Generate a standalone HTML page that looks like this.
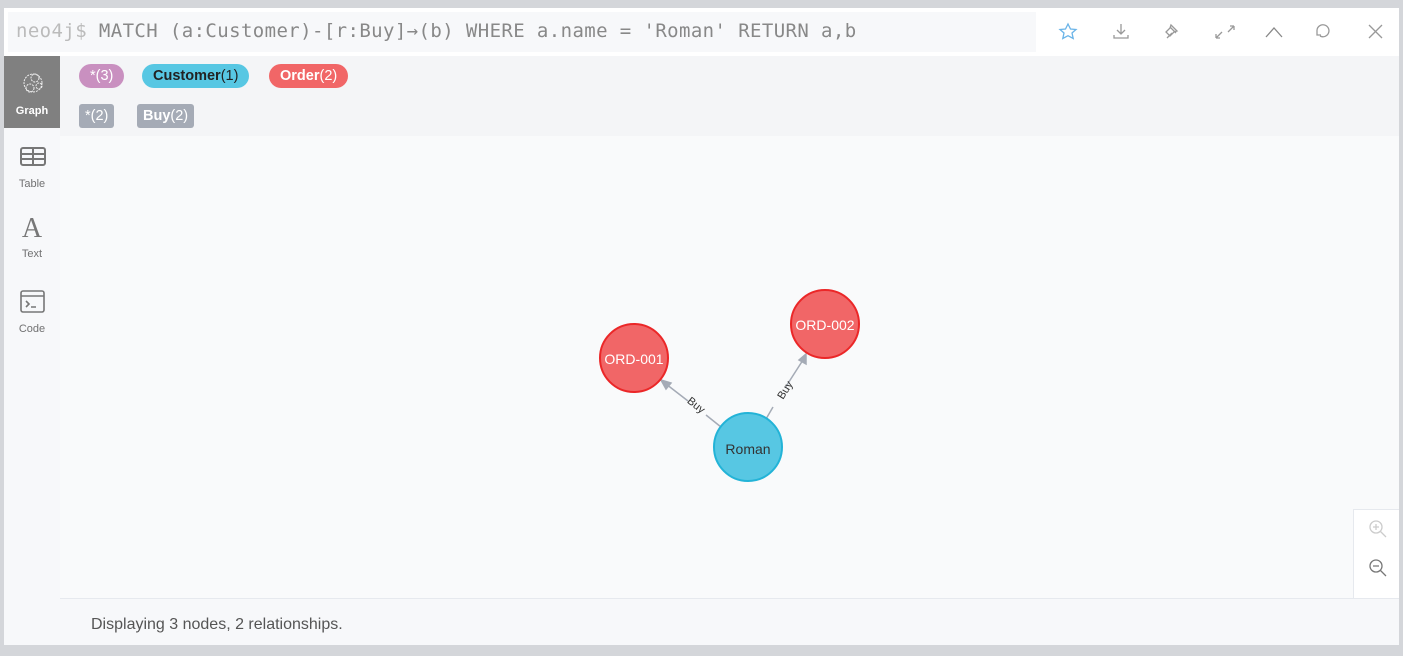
<!DOCTYPE html>
<html><head><style>
*{margin:0;padding:0;box-sizing:border-box}
body{width:1403px;height:656px;background:#d4d6da;font-family:"Liberation Sans",sans-serif;position:relative;overflow:hidden}
.abs{position:absolute}
.pill{position:absolute;height:24px;line-height:24px;border-radius:12px;font-size:14.5px;padding:0 11px}
.tag{position:absolute;height:24px;line-height:24px;border-radius:3px;font-size:14.5px;padding:0 6px;background:#a5abb6;color:#fff}
.side{position:absolute;left:4px;width:56px;text-align:center;font-size:11px;color:#717172}
</style></head><body>
<div class="abs" style="left:4px;top:8px;width:1395px;height:637px;background:#f9fafb"></div>
<div class="abs" style="left:4px;top:8px;width:1395px;height:48px;background:#fff"></div>
<div class="abs" style="left:8px;top:12px;width:1028px;height:40px;background:#f7f8fa"></div>
<div class="abs" style="left:16px;top:20px;font-family:'DejaVu Sans Mono','Liberation Mono',monospace;font-size:19px;color:#888;white-space:pre;letter-spacing:0.4px"><span style="color:#bbb">neo4j$</span> MATCH (a:Customer)-[r:Buy]→(b) WHERE a.name = 'Roman' RETURN a,b</div>
<svg class="abs" style="left:1040px;top:0" width="363" height="60" fill="none" stroke-width="1.3">
<polygon points="28,24 30.5,29 36,29.5 32,33 33.2,38.5 28,35.7 22.8,38.5 24,33 20,29.5 25.5,29" stroke="#6ab4e8"/>
<g stroke="#999"><path d="M81 24v10M77 30l4 4 4-4M74 35v3h14v-3"/>
<path d="M127 38l5-5M130 27l6 6M131 25l6 6-3 1-4 4-4-4 4-4z"/>
<path d="M176 38l6-6M176 38v-4M176 38h4M194 26l-6 6M194 26v4M194 26h-4"/>
<path d="M226 37l8-9 8 9" stroke="#888"/>
<path d="M280 36a6 6 0 1 0-3-6M277 30v5h4"/>
<path d="M329 25l13 13M342 25l-13 13"/></g>
</svg>
<div class="abs" style="left:4px;top:56px;width:56px;height:589px;background:#f7f8fa"></div>
<div class="abs" style="left:4px;top:56px;width:56px;height:72px;background:#808080"></div>
<svg class="abs" style="left:20px;top:70px" width="26" height="26" fill="none" stroke="#eee" stroke-width="1" stroke-dasharray="2 1"><circle cx="13" cy="13" r="9"/><circle cx="15" cy="8" r="4"/><circle cx="10" cy="18" r="4"/><circle cx="19" cy="16" r="3"/></svg>
<div class="side" style="top:105px;color:#fff;font-weight:bold">Graph</div>
<svg class="abs" style="left:20px;top:147px" width="26" height="20" fill="none" stroke="#777" stroke-width="2"><rect x="1" y="1" width="24" height="17" rx="2"/><path d="M1 7h24M1 12h24M13 1v17"/></svg>
<div class="side" style="top:178px">Table</div>
<div class="side" style="top:213px;font-family:'Liberation Serif',serif;font-size:28px;color:#777">A</div>
<div class="side" style="top:248px">Text</div>
<svg class="abs" style="left:20px;top:290px" width="26" height="24" fill="none" stroke="#777" stroke-width="1.6"><rect x="1" y="1" width="23" height="21" rx="2"/><path d="M1 6h23M6 11l3 3-3 3M11 17h5"/></svg>
<div class="side" style="top:323px">Code</div>
<div class="abs" style="left:60px;top:56px;width:1339px;height:80px;background:#f4f5f7"></div>
<div class="pill" style="left:79px;top:64px;background:#c990c0;color:#fff">*(3)</div>
<div class="pill" style="left:142px;top:64px;background:#57c7e3;color:#222"><b>Customer</b>(1)</div>
<div class="pill" style="left:269px;top:64px;background:#f16667;color:#fff"><b>Order</b>(2)</div>
<div class="tag" style="left:79px;top:104px">*(2)</div>
<div class="tag" style="left:137px;top:104px"><b>Buy</b>(2)</div>
<svg class="abs" style="left:0;top:0" width="1403" height="656">
<g stroke="#a5abb6" stroke-width="1.5" fill="#a5abb6">
<path d="M721 427L706 415M688 401L666 384" fill="none"/>
<polygon points="661,380 671,383 666,389"/>
<path d="M766 419L773 407M785 388L803 360" fill="none"/>
<polygon points="806,354 806,364 799,360"/>
</g>
<text x="0" y="0" font-size="11" fill="#333" text-anchor="middle" transform="translate(694,408) rotate(38)">Buy</text>
<text x="0" y="0" font-size="11" fill="#333" text-anchor="middle" transform="translate(788,392) rotate(-58)">Buy</text>
<circle cx="634" cy="358" r="34" fill="#f16667" stroke="#eb2728" stroke-width="2"/>
<circle cx="825" cy="324" r="34" fill="#f16667" stroke="#eb2728" stroke-width="2"/>
<circle cx="748" cy="447" r="34" fill="#57c7e3" stroke="#23b3d7" stroke-width="2"/>
<g font-size="14" text-anchor="middle"><text x="634" y="364" fill="#fff">ORD-001</text><text x="825" y="330" fill="#fff">ORD-002</text><text x="748" y="454" fill="#333">Roman</text></g>
</svg>
<div class="abs" style="left:1353px;top:509px;width:46px;height:89px;background:#fff;border-left:1px solid #e6e9ee;border-top:1px solid #e6e9ee"></div>
<svg class="abs" style="left:1366px;top:518px" width="24" height="64" fill="none" stroke-width="1.3"><g stroke="#ccc"><circle cx="10" cy="9" r="6"/><path d="M14 13l6 6M7 9h6M10 6v6"/></g><g stroke="#777"><circle cx="10" cy="48" r="6"/><path d="M14 52l6 6M7 48h6"/></g></svg>
<div class="abs" style="left:60px;top:598px;width:1339px;height:47px;background:#f7f8fa;border-top:1px solid #e6e9ee"></div>
<div class="abs" style="left:91px;top:616px;font-size:16px;color:#555">Displaying 3 nodes, 2 relationships.</div>
</body></html>
